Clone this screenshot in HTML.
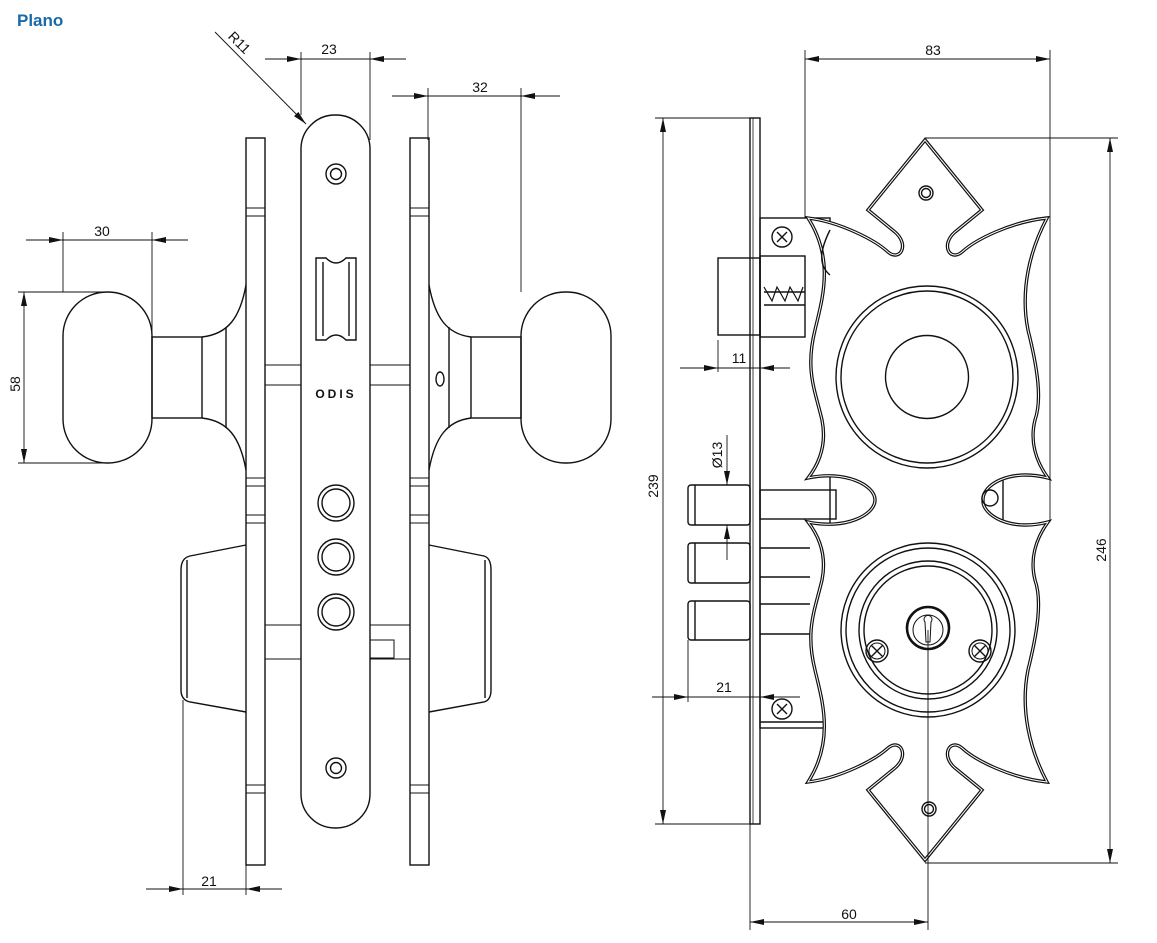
<!DOCTYPE html>
<html><head><meta charset="utf-8"><style>
html,body{margin:0;padding:0;background:#fff;}
svg{display:block;}
text{font-family:"Liberation Sans",sans-serif;font-size:14px;fill:#111;}
</style></head><body>
<svg width="1157" height="943" viewBox="0 0 1157 943" xmlns="http://www.w3.org/2000/svg">
<defs>
<marker id="a" markerWidth="14" markerHeight="8" refX="14" refY="4" orient="auto" markerUnits="userSpaceOnUse"><path d="M0,1 L14,4 L0,7 Z" fill="#111"/></marker>
<marker id="b" markerWidth="14" markerHeight="8" refX="0" refY="4" orient="auto" markerUnits="userSpaceOnUse"><path d="M14,1 L0,4 L14,7 Z" fill="#111"/></marker>
</defs>
<text x="17" y="26" style="font-size:17px;font-weight:bold;fill:#1a6aa8">Plano</text>
<g fill="none" stroke="#111" stroke-width="1.4">
<!-- LEFT VIEW -->
<rect x="246" y="138" width="19" height="727"/>
<rect x="410" y="138" width="19" height="727"/>
<g stroke-width="1">
<line x1="246" y1="208" x2="265" y2="208"/><line x1="246" y1="216" x2="265" y2="216"/>
<line x1="410" y1="208" x2="429" y2="208"/><line x1="410" y1="216" x2="429" y2="216"/>
<line x1="246" y1="478" x2="265" y2="478"/><line x1="246" y1="486" x2="265" y2="486"/>
<line x1="410" y1="478" x2="429" y2="478"/><line x1="410" y1="486" x2="429" y2="486"/>
<line x1="246" y1="515" x2="265" y2="515"/><line x1="246" y1="523" x2="265" y2="523"/>
<line x1="410" y1="515" x2="429" y2="515"/><line x1="410" y1="523" x2="429" y2="523"/>
<line x1="246" y1="785" x2="265" y2="785"/><line x1="246" y1="793" x2="265" y2="793"/>
<line x1="410" y1="785" x2="429" y2="785"/><line x1="410" y1="793" x2="429" y2="793"/>
<rect x="265" y="365" width="36" height="20"/><rect x="370" y="365" width="40" height="20"/>
<rect x="265" y="625" width="36" height="34"/><rect x="370" y="625" width="40" height="34"/>
<rect x="370" y="640" width="24" height="18"/>
<line x1="265" y1="610" x2="265" y2="640"/><line x1="410" y1="610" x2="410" y2="640"/>
</g>
<rect x="301" y="115" width="69" height="713" rx="34"/>
<circle cx="336" cy="174" r="10"/><circle cx="336" cy="174" r="5.5"/>
<circle cx="336" cy="768" r="10"/><circle cx="336" cy="768" r="5.5"/>
<path d="M316,258 L326,258 Q336,268 346,258 L356,258 L356,340 L346,340 Q336,330 326,340 L316,340 Z"/>
<line x1="323" y1="262" x2="323" y2="336"/><line x1="349" y1="262" x2="349" y2="336"/>
<circle cx="336" cy="503" r="18"/><circle cx="336" cy="503" r="14"/>
<circle cx="336" cy="557" r="18"/><circle cx="336" cy="557" r="14"/>
<circle cx="336" cy="612" r="18"/><circle cx="336" cy="612" r="14"/>
<ellipse cx="440" cy="379" rx="4" ry="7"/>
<!-- left knob -->
<rect x="63" y="292" width="89" height="171" rx="44"/>
<rect x="152" y="337" width="50" height="81"/>
<line x1="226" y1="327" x2="226" y2="428"/>
<path d="M202,337 C228,334 240,318 246,285"/><path d="M202,418 C228,421 240,437 246,470"/>
<path d="M246,545 L190,556 Q181,558 181,570 L181,690 Q181,700 190,702 L246,712"/>
<line x1="187" y1="560" x2="187" y2="698"/>
<!-- right knob -->
<rect x="521" y="292" width="90" height="171" rx="44"/>
<rect x="471" y="337" width="50" height="81"/>
<line x1="449" y1="327" x2="449" y2="428"/>
<path d="M471,337 C447,334 435,318 429,285"/><path d="M471,418 C447,421 435,437 429,470"/>
<path d="M429,545 L484,556 Q491,558 491,570 L491,690 Q491,700 484,702 L429,712"/>
<line x1="485" y1="560" x2="485" y2="698"/>
</g>
<text x="336" y="398" text-anchor="middle" style="font-size:12px;font-weight:bold;letter-spacing:3px">ODIS</text>
<!-- left dims -->
<g fill="none" stroke="#111" stroke-width="0.9">
<line x1="301" y1="52" x2="301" y2="115"/><line x1="370" y1="52" x2="370" y2="140"/>
<line x1="265" y1="59" x2="301" y2="59" marker-end="url(#a)"/><line x1="406" y1="59" x2="370" y2="59" marker-end="url(#a)"/><line x1="301" y1="59" x2="370" y2="59"/>
<line x1="428" y1="88" x2="428" y2="140"/><line x1="521" y1="88" x2="521" y2="292"/>
<line x1="392" y1="96" x2="428" y2="96" marker-end="url(#a)"/><line x1="560" y1="96" x2="521" y2="96" marker-end="url(#a)"/><line x1="428" y1="96" x2="521" y2="96"/>
<line x1="63" y1="232" x2="63" y2="292"/><line x1="152" y1="232" x2="152" y2="337"/>
<line x1="26" y1="240" x2="63" y2="240" marker-end="url(#a)"/><line x1="188" y1="240" x2="152" y2="240" marker-end="url(#a)"/><line x1="63" y1="240" x2="152" y2="240"/>
<line x1="18" y1="292" x2="105" y2="292"/><line x1="18" y1="463" x2="105" y2="463"/>
<line x1="24" y1="292" x2="24" y2="463" marker-start="url(#b)" marker-end="url(#a)"/>
<line x1="183" y1="700" x2="183" y2="895"/><line x1="246" y1="865" x2="246" y2="895"/>
<line x1="146" y1="889" x2="183" y2="889" marker-end="url(#a)"/><line x1="282" y1="889" x2="246" y2="889" marker-end="url(#a)"/><line x1="183" y1="889" x2="246" y2="889"/>
<line x1="215" y1="32" x2="306" y2="124" marker-end="url(#a)"/>
</g>
<text x="329" y="54" text-anchor="middle">23</text>
<text x="480" y="92" text-anchor="middle">32</text>
<text x="102" y="236" text-anchor="middle">30</text>
<text x="20" y="384" text-anchor="middle" transform="rotate(-90 20 384)">58</text>
<text x="209" y="886" text-anchor="middle">21</text>
<text x="236" y="46" text-anchor="middle" transform="rotate(45 236 46)">R11</text>

<!-- RIGHT VIEW -->
<g fill="none" stroke="#111" stroke-width="1.4">
<rect x="750" y="118" width="10" height="706"/>
<line x1="753" y1="118" x2="753" y2="824" stroke-width="0.8"/>
<rect x="760" y="218" width="70" height="510"/>
<line x1="760" y1="722" x2="832" y2="722"/>
<rect x="718" y="258" width="42" height="77"/>
<rect x="760" y="256" width="45" height="81"/>
<path d="M764,287 l8,14 l5,-14 l8,14 l5,-14 l8,14 l5,-14" stroke-width="1.2"/>
<line x1="764" y1="292" x2="805" y2="292"/><line x1="764" y1="305" x2="805" y2="305"/>
<circle cx="782" cy="237" r="10"/><path d="M777,232 l10,10 M787,232 l-10,10"/>
<circle cx="782" cy="709" r="10"/><path d="M777,704 l10,10 M787,704 l-10,10"/>
<rect x="688" y="485" width="62" height="40" rx="3"/><line x1="695" y1="485" x2="695" y2="525"/>
<rect x="688" y="543" width="62" height="40" rx="3"/><line x1="695" y1="543" x2="695" y2="583"/>
<rect x="688" y="601" width="62" height="39" rx="3"/><line x1="695" y1="601" x2="695" y2="640"/>
<rect x="760" y="490" width="76" height="29"/>
<line x1="760" y1="548" x2="810" y2="548"/><line x1="760" y1="577" x2="810" y2="577"/>
<line x1="760" y1="604" x2="810" y2="604"/><line x1="760" y1="634" x2="810" y2="634"/>
<path fill="#fff" stroke="#111" stroke-width="3.4" d="M808,478 C822,460 826,440 822,420 C815,390 805,370 815,330 C822,300 835,260 808,218 C840,222 875,240 888,252 C900,262 910,245 895,232 L868,210 L925,140 L982,210 L955,232 C940,245 950,262 962,252 C975,240 1010,222 1047,218 C1030,250 1020,290 1028,330 C1038,370 1042,400 1035,420 C1030,440 1035,460 1048,478 C1010,468 982,485 983,500 C982,515 1010,532 1048,522 C1035,540 1030,560 1035,580 C1042,600 1038,630 1028,670 C1020,710 1030,750 1047,782 C1010,778 975,760 962,748 C950,738 940,755 955,768 L982,790 L925,860 L868,790 L895,768 C910,755 900,738 888,748 C875,760 840,778 808,782 C835,740 822,700 815,670 C805,630 815,610 822,580 C826,560 822,540 808,522 C845,530 875,515 875,500 C875,485 845,470 808,478 Z"/>
<path fill="none" stroke="#fff" stroke-width="1" d="M808,478 C822,460 826,440 822,420 C815,390 805,370 815,330 C822,300 835,260 808,218 C840,222 875,240 888,252 C900,262 910,245 895,232 L868,210 L925,140 L982,210 L955,232 C940,245 950,262 962,252 C975,240 1010,222 1047,218 C1030,250 1020,290 1028,330 C1038,370 1042,400 1035,420 C1030,440 1035,460 1048,478 C1010,468 982,485 983,500 C982,515 1010,532 1048,522 C1035,540 1030,560 1035,580 C1042,600 1038,630 1028,670 C1020,710 1030,750 1047,782 C1010,778 975,760 962,748 C950,738 940,755 955,768 L982,790 L925,860 L868,790 L895,768 C910,755 900,738 888,748 C875,760 840,778 808,782 C835,740 822,700 815,670 C805,630 815,610 822,580 C826,560 822,540 808,522 C845,530 875,515 875,500 C875,485 845,470 808,478 Z"/>
<circle cx="926" cy="193" r="7"/><circle cx="926" cy="193" r="4.5"/>
<circle cx="929" cy="809" r="7"/><circle cx="929" cy="809" r="4.5"/>
<circle cx="927" cy="377" r="91"/><circle cx="927" cy="377" r="86"/>
<circle cx="927" cy="377" r="41.5"/>
<circle cx="928" cy="630" r="87"/><circle cx="928" cy="630" r="82"/>
<circle cx="928" cy="630" r="69"/><circle cx="928" cy="630" r="64"/>
<circle cx="928" cy="628" r="21" stroke-width="2.6"/><circle cx="928" cy="630" r="15" stroke-width="1"/>
<path d="M925,622 a4,4 0 1 1 6,0 l-1,20 h-4 Z" stroke-width="1"/>
<circle cx="877" cy="651" r="11"/><circle cx="877" cy="651" r="8" stroke-width="1"/><path d="M871,645 l12,12 M883,645 l-12,12"/>
<circle cx="980" cy="651" r="11"/><circle cx="980" cy="651" r="8" stroke-width="1"/><path d="M974,645 l12,12 M986,645 l-12,12"/>
<path d="M830,230 C820,250 818,265 830,275"/>
<circle cx="990" cy="498" r="8"/><line x1="1003" y1="480" x2="1003" y2="520"/>
</g>
<!-- right dims -->
<g fill="none" stroke="#111" stroke-width="0.9">
<line x1="805" y1="50" x2="805" y2="218"/><line x1="1050" y1="50" x2="1050" y2="520"/>
<line x1="805" y1="59" x2="1050" y2="59" marker-start="url(#b)" marker-end="url(#a)"/>
<line x1="655" y1="118" x2="750" y2="118"/><line x1="655" y1="824" x2="750" y2="824"/>
<line x1="663" y1="118" x2="663" y2="824" marker-start="url(#b)" marker-end="url(#a)"/>
<line x1="925" y1="138" x2="1118" y2="138"/><line x1="925" y1="863" x2="1118" y2="863"/>
<line x1="1110" y1="138" x2="1110" y2="863" marker-start="url(#b)" marker-end="url(#a)"/>
<line x1="718" y1="340" x2="718" y2="372"/>
<line x1="790" y1="368" x2="760" y2="368" marker-end="url(#a)"/><line x1="718" y1="368" x2="760" y2="368"/>
<line x1="680" y1="368" x2="718" y2="368" marker-end="url(#a)"/>
<line x1="688" y1="640" x2="688" y2="702"/>
<line x1="652" y1="697" x2="688" y2="697" marker-end="url(#a)"/><line x1="800" y1="697" x2="760" y2="697" marker-end="url(#a)"/><line x1="688" y1="697" x2="760" y2="697"/>
<line x1="727" y1="435" x2="727" y2="485" marker-end="url(#a)"/><line x1="727" y1="560" x2="727" y2="525" marker-end="url(#a)"/>
<line x1="750" y1="824" x2="750" y2="930"/><line x1="928" y1="630" x2="928" y2="930"/>
<line x1="750" y1="922" x2="928" y2="922" marker-start="url(#b)" marker-end="url(#a)"/>
</g>
<text x="933" y="55" text-anchor="middle">83</text>
<text x="658" y="486" text-anchor="middle" transform="rotate(-90 658 486)">239</text>
<text x="1106" y="550" text-anchor="middle" transform="rotate(-90 1106 550)">246</text>
<text x="739" y="363" text-anchor="middle">11</text>
<text x="724" y="692" text-anchor="middle">21</text>
<text x="722" y="455" text-anchor="middle" transform="rotate(-90 722 455)">Ø13</text>
<text x="849" y="919" text-anchor="middle">60</text>
</svg>
</body></html>
